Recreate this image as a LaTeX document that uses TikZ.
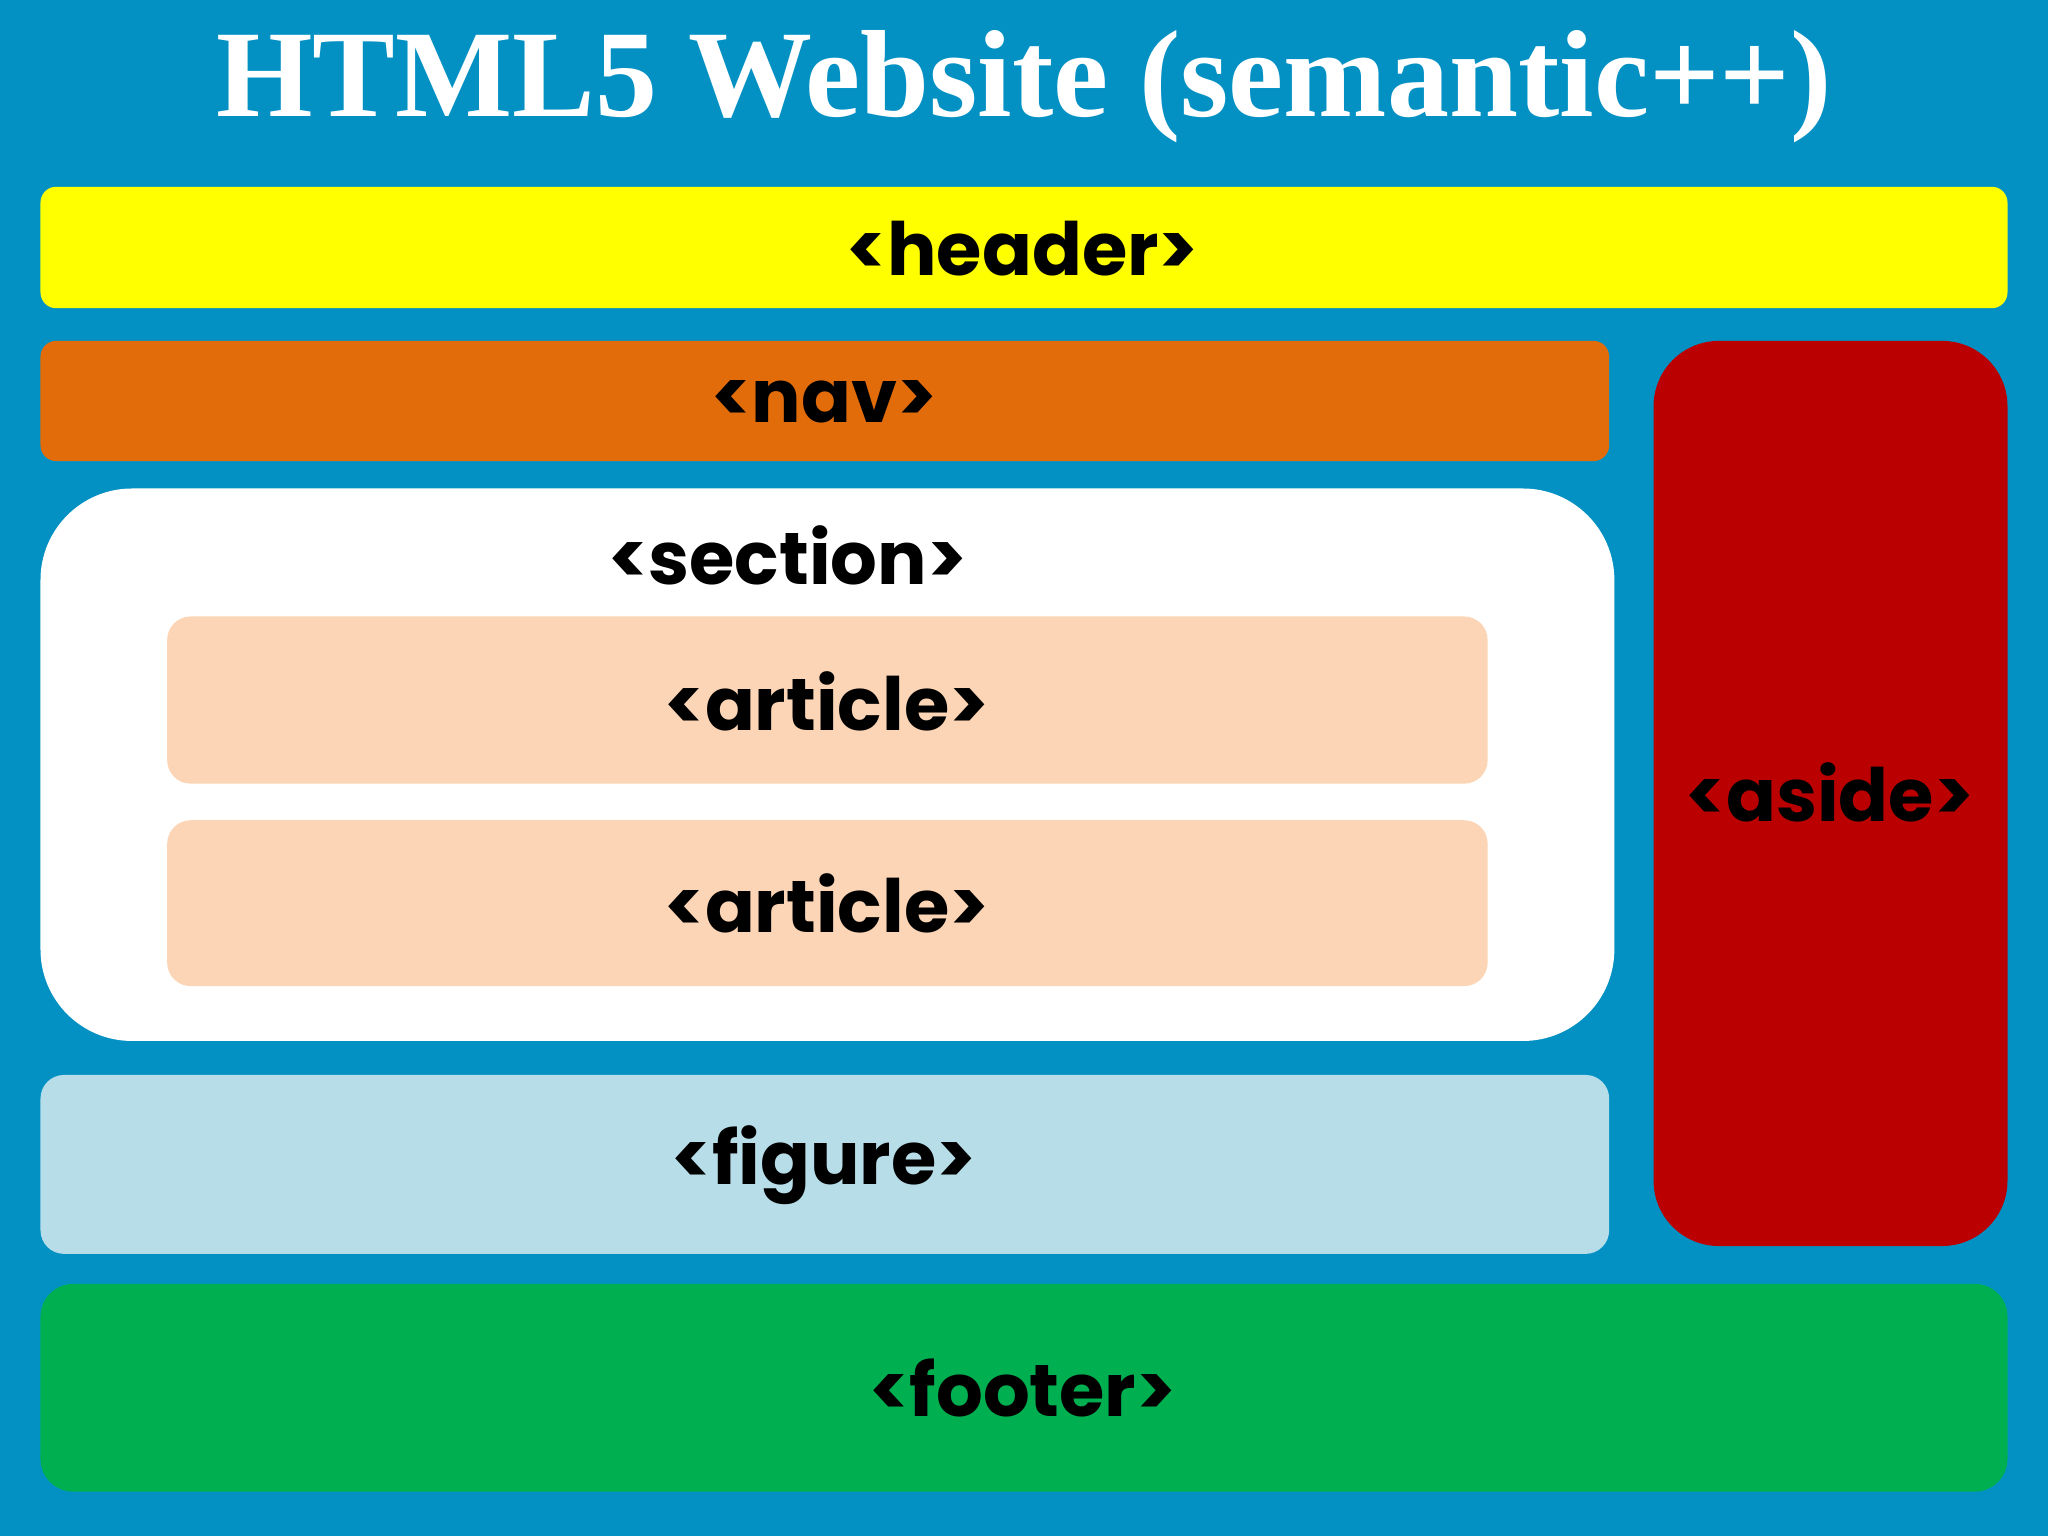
\documentclass[tikz,border=0pt]{standalone}
\usepackage{fontspec}
\setmainfont{Poppins}
\newfontfamily\titlefont{Liberation Serif}
\definecolor{bgblue}{HTML}{0391C4}
\definecolor{hdr}{HTML}{FFFF00}
\definecolor{navc}{HTML}{E36C0A}
\definecolor{asidec}{HTML}{BA0000}
\definecolor{artc}{HTML}{FBD5B5}
\definecolor{figc}{HTML}{B7DEE8}
\definecolor{footc}{HTML}{00B050}
\tikzset{
  lbl/.style={font=\fontsize{16}{18}\selectfont\bfseries, text=black},
  blk/.style={draw=none},
}
\begin{document}
\begin{tikzpicture}[x=0.01cm,y=-0.01cm]
\fill[bgblue] (0,0) rectangle (1568,1176);
\useasboundingbox (0,0) rectangle (1568,1176);
\node[text=white, font=\titlefont\fontsize{27}{30}\selectfont\bfseries] (title) at (784,66) {HTML5 Website (semantic++)};
\fill[hdr, rounded corners=0.12cm] (31,143) rectangle (1537,236);
\node[lbl] (header) at (783,190) {<header>};
\fill[navc, rounded corners=0.12cm] (31,261) rectangle (1232,353);
\node[lbl] (nav) at (631,308) {<nav>};
\fill[asidec, rounded corners=0.5cm] (1266,261) rectangle (1537,954);
\node[lbl] (aside) at (1401,607) {<aside>};
\fill[white, rounded corners=0.7cm] (31,374) rectangle (1236,797);
\node[lbl] (section) at (603,425) {<section>};
\fill[artc, rounded corners=0.18cm] (128,472) rectangle (1139,600);
\node[lbl] (art1) at (633,537) {<article>};
\fill[artc, rounded corners=0.18cm] (128,628) rectangle (1139,755);
\node[lbl] (art2) at (633,692) {<article>};
\fill[figc, rounded corners=0.18cm] (31,823) rectangle (1232,960);
\node[lbl] (figure) at (631,892) {<figure>};
\fill[footc, rounded corners=0.25cm] (31,983) rectangle (1537,1142);
\node[lbl] (footer) at (783,1063) {<footer>};
\end{tikzpicture}
\end{document}
